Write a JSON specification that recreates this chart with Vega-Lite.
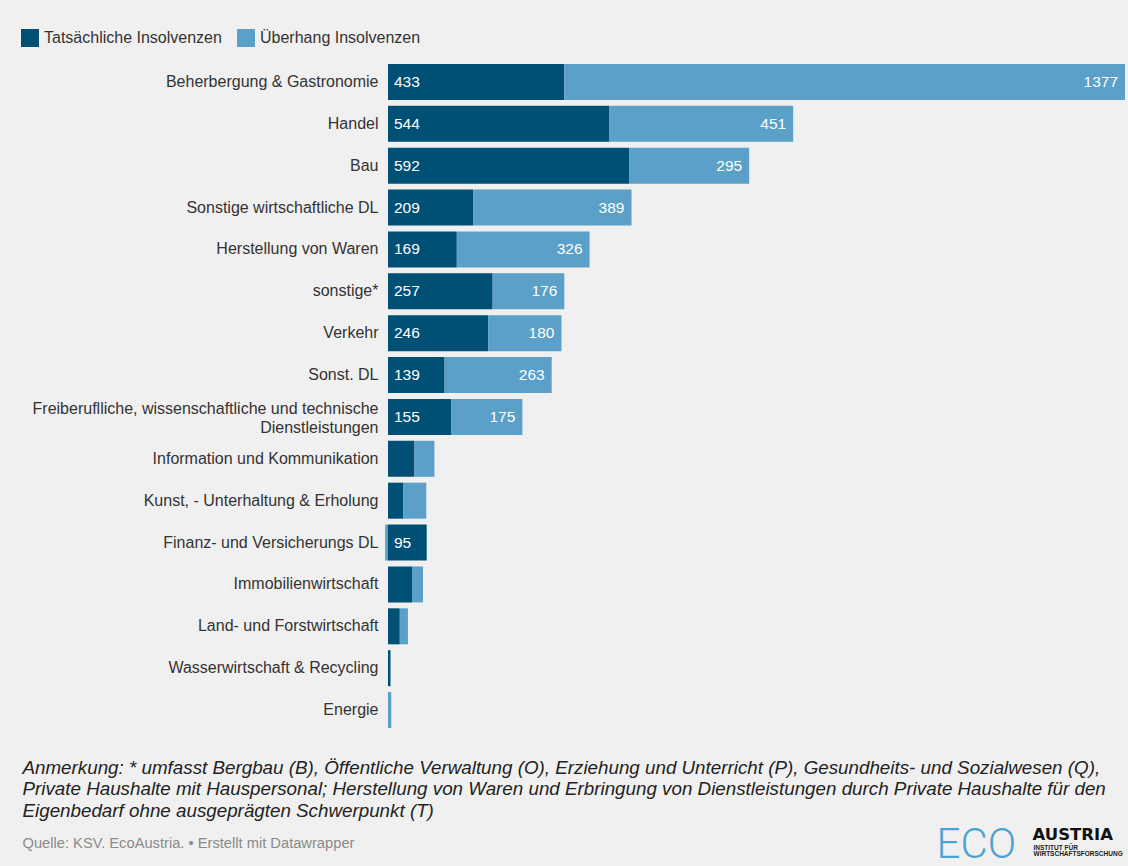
{
  "$schema": "https://vega.github.io/schema/vega-lite/v6.json",
  "width": 737,
  "height": 670,
  "autosize": "none",
  "padding": {"left": 388, "top": 61, "right": 3, "bottom": 135},
  "background": "#f0f0f0",
  "config": {
    "view": {"stroke": null},
    "font": "Liberation Sans",
    "axis": {"grid": false, "ticks": false, "domain": false, "labels": false}
  },
  "data": {
    "values": [
      {"cat": "Beherbergung & Gastronomie", "type": "Tatsächliche Insolvenzen", "value": 433},
      {"cat": "Beherbergung & Gastronomie", "type": "Überhang Insolvenzen", "value": 1377},
      {"cat": "Handel", "type": "Tatsächliche Insolvenzen", "value": 544},
      {"cat": "Handel", "type": "Überhang Insolvenzen", "value": 451},
      {"cat": "Bau", "type": "Tatsächliche Insolvenzen", "value": 592},
      {"cat": "Bau", "type": "Überhang Insolvenzen", "value": 295},
      {"cat": "Sonstige wirtschaftliche DL", "type": "Tatsächliche Insolvenzen", "value": 209},
      {"cat": "Sonstige wirtschaftliche DL", "type": "Überhang Insolvenzen", "value": 389},
      {"cat": "Herstellung von Waren", "type": "Tatsächliche Insolvenzen", "value": 169},
      {"cat": "Herstellung von Waren", "type": "Überhang Insolvenzen", "value": 326},
      {"cat": "sonstige*", "type": "Tatsächliche Insolvenzen", "value": 257},
      {"cat": "sonstige*", "type": "Überhang Insolvenzen", "value": 176},
      {"cat": "Verkehr", "type": "Tatsächliche Insolvenzen", "value": 246},
      {"cat": "Verkehr", "type": "Überhang Insolvenzen", "value": 180},
      {"cat": "Sonst. DL", "type": "Tatsächliche Insolvenzen", "value": 139},
      {"cat": "Sonst. DL", "type": "Überhang Insolvenzen", "value": 263},
      {"cat": "Freiberuflliche, wissenschaftliche und technische|Dienstleistungen", "type": "Tatsächliche Insolvenzen", "value": 155},
      {"cat": "Freiberuflliche, wissenschaftliche und technische|Dienstleistungen", "type": "Überhang Insolvenzen", "value": 175},
      {"cat": "Information und Kommunikation", "type": "Tatsächliche Insolvenzen", "value": 65},
      {"cat": "Information und Kommunikation", "type": "Überhang Insolvenzen", "value": 49},
      {"cat": "Kunst, - Unterhaltung & Erholung", "type": "Tatsächliche Insolvenzen", "value": 38},
      {"cat": "Kunst, - Unterhaltung & Erholung", "type": "Überhang Insolvenzen", "value": 56},
      {"cat": "Finanz- und Versicherungs DL", "type": "Tatsächliche Insolvenzen", "value": 95},
      {"cat": "Finanz- und Versicherungs DL", "type": "Überhang Insolvenzen", "value": -7},
      {"cat": "Immobilienwirtschaft", "type": "Tatsächliche Insolvenzen", "value": 59},
      {"cat": "Immobilienwirtschaft", "type": "Überhang Insolvenzen", "value": 27},
      {"cat": "Land- und Forstwirtschaft", "type": "Tatsächliche Insolvenzen", "value": 29},
      {"cat": "Land- und Forstwirtschaft", "type": "Überhang Insolvenzen", "value": 20},
      {"cat": "Wasserwirtschaft & Recycling", "type": "Tatsächliche Insolvenzen", "value": 6},
      {"cat": "Wasserwirtschaft & Recycling", "type": "Überhang Insolvenzen", "value": 1},
      {"cat": "Energie", "type": "Tatsächliche Insolvenzen", "value": 0},
      {"cat": "Energie", "type": "Überhang Insolvenzen", "value": 8}
    ]
  },
  "transform": [
    {"joinaggregate": [{"op": "sum", "field": "value", "as": "total"}], "groupby": ["cat"]}
  ],
  "encoding": {
    "y": {
      "field": "cat",
      "type": "nominal",
      "sort": null,
      "scale": {"paddingInner": 0.14, "paddingOuter": 0.07}
    }
  },
  "layer": [
    {
      "mark": {"type": "bar"},
      "encoding": {
        "x": {
          "field": "value",
          "type": "quantitative",
          "stack": "zero",
          "scale": {"domain": [0, 1810], "nice": false},
          "axis": {
            "orient": "bottom",
            "title": "ECO",
            "titleX": 548,
            "titleY": 126,
            "titleAlign": "left",
            "titleBaseline": "alphabetic",
            "titleFont": "Roboto",
            "titleFontSize": 42,
            "titleFontWeight": 300,
            "titleColor": "#4ba3d3"
          }
        },
        "y": {
          "field": "cat",
          "type": "nominal",
          "sort": null,
          "axis": {
            "orient": "left",
            "labels": true,
            "labelExpr": "split(datum.label, '|')",
            "labelFont": "Liberation Sans",
            "labelFontSize": 16,
            "labelColor": "#333333",
            "labelPadding": 10,
            "labelLineHeight": 19,
            "labelLimit": 400,
            "labelOffset": {"condition": {"test": "indexof(datum.label, '|') >= 0", "value": -7.5}, "value": 0},
            "title": [
              "Anmerkung: * umfasst Bergbau (B), Öffentliche Verwaltung (O), Erziehung und Unterricht (P), Gesundheits- und Sozialwesen (Q),",
              "Private Haushalte mit Hauspersonal; Herstellung von Waren und Erbringung von Dienstleistungen durch Private Haushalte für den",
              "Eigenbedarf ohne ausgeprägten Schwerpunkt (T)"
            ],
            "titleAngle": 0,
            "titleX": -366,
            "titleY": 697,
            "titleAlign": "left",
            "titleBaseline": "top",
            "titleFont": "Liberation Sans",
            "titleFontStyle": "italic",
            "titleFontWeight": "normal",
            "titleFontSize": 18.8,
            "titleLineHeight": 21.5,
            "titleColor": "#222222",
            "titleLimit": 1200
          }
        },
        "color": {
          "field": "type",
          "type": "nominal",
          "scale": {
            "domain": ["Tatsächliche Insolvenzen", "Überhang Insolvenzen"],
            "range": ["#004f74", "#5aa0c8"]
          },
          "legend": {
            "orient": "none",
            "legendX": -367,
            "legendY": -32,
            "direction": "horizontal",
            "title": null,
            "symbolType": "square",
            "symbolSize": 324,
            "symbolStrokeWidth": 0,
            "symbolOpacity": 1,
            "labelFont": "Liberation Sans",
            "labelFontSize": 16,
            "labelColor": "#333333",
            "labelOffset": 5,
            "labelLimit": 400,
            "columnPadding": 15,
            "padding": 0
          }
        }
      }
    },
    {
      "transform": [
        {"filter": "datum.type === 'Tatsächliche Insolvenzen' && datum.value >= 90"}
      ],
      "mark": {"type": "text", "align": "left", "dx": 6, "baseline": "middle", "font": "Liberation Sans", "fontSize": 15.5, "color": "#ffffff"},
      "encoding": {
        "x": {
          "datum": 0,
          "type": "quantitative",
          "axis": {
            "orient": "bottom",
            "title": "Quelle: KSV. EcoAustria. • Erstellt mit Datawrapper",
            "titleX": -366,
            "titleY": 112,
            "titleAlign": "left",
            "titleBaseline": "middle",
            "titleFont": "Liberation Sans",
            "titleFontSize": 14.7,
            "titleFontWeight": "normal",
            "titleColor": "#8a8a8a",
            "titleLimit": 800
          }
        },
        "y": {
          "field": "cat",
          "type": "nominal",
          "sort": null,
          "axis": {
            "orient": "right",
            "title": "AUSTRIA",
            "titleAngle": 0,
            "titleX": -93,
            "titleY": 778.5,
            "titleAlign": "left",
            "titleBaseline": "alphabetic",
            "titleFont": "DejaVu Sans",
            "titleFontSize": 16.5,
            "titleFontWeight": "bold",
            "titleColor": "#111111"
          }
        },
        "text": {"field": "value", "type": "quantitative"}
      }
    },
    {
      "transform": [
        {"filter": "datum.type === 'Überhang Insolvenzen' && datum.value >= 90"}
      ],
      "mark": {"type": "text", "align": "right", "dx": -7, "baseline": "middle", "font": "Liberation Sans", "fontSize": 15.5, "color": "#ffffff"},
      "encoding": {
        "x": {
          "field": "total",
          "type": "quantitative",
          "axis": {
            "orient": "top",
            "title": ["INSTITUT FÜR", "WIRTSCHAFTSFORSCHUNG"],
            "titleX": 645,
            "titleY": 783.5,
            "titleAlign": "left",
            "titleBaseline": "top",
            "titleFont": "Liberation Sans",
            "titleFontSize": 6.5,
            "titleFontWeight": "bold",
            "titleLineHeight": 6.3,
            "titleColor": "#222222"
          }
        },
        "y": {"field": "cat", "type": "nominal", "sort": null, "axis": null},
        "text": {"field": "value", "type": "quantitative"}
      }
    }
  ],
  "resolve": {"axis": {"x": "independent", "y": "independent"}}
}
